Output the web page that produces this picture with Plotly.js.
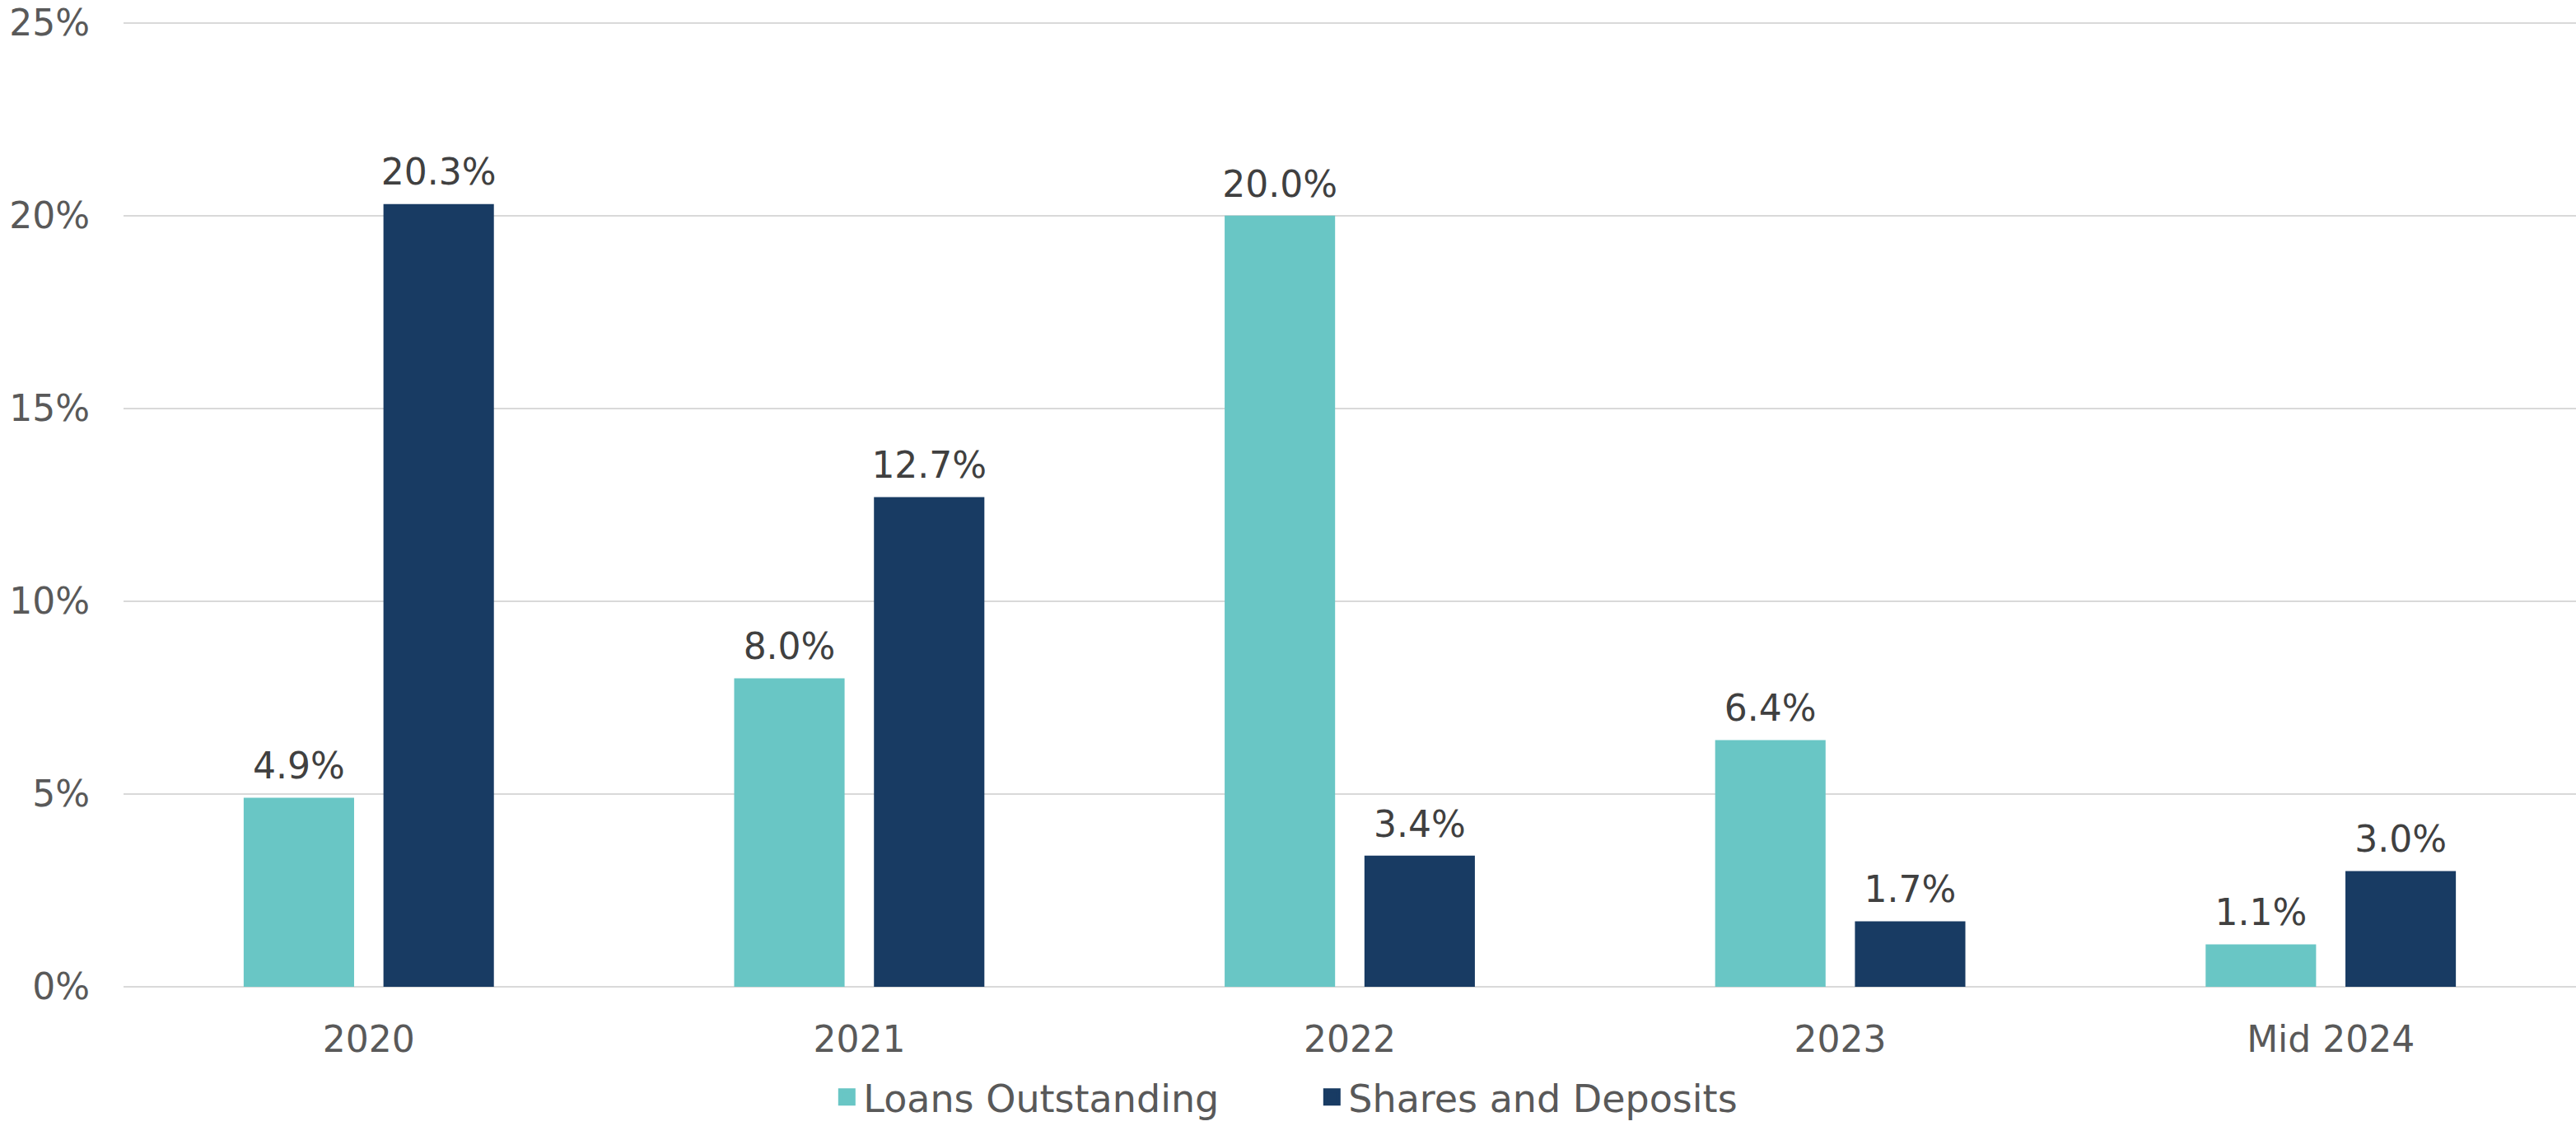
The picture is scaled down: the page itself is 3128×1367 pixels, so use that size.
<!DOCTYPE html>
<html>
<head>
<meta charset="utf-8">
<script src="https://cdn.plot.ly/plotly-3.0.1.min.js"></script>
<style>html,body{margin:0;padding:0;background:#fff}#chart{width:3128px;height:1367px}</style>
</head>
<body>
<div id="chart"></div>
<script>
const categories = ["2020", "2021", "2022", "2023", "Mid 2024"];
const loansOutstanding = [4.9, 8.0, 20.0, 6.4, 1.1];
const sharesDeposits = [20.3, 12.7, 3.4, 1.7, 3.0];
const seriesNames = ["Loans Outstanding", "Shares and Deposits"];
const colors = ["#69c6c5", "#183b63"];

const FONT = "DejaVu Sans, sans-serif";
const FS = 44;
const labelFmt = v => v.toFixed(1) + "%";

function barTrace(i, vals) {
  return {type: "bar", name: seriesNames[i], x: categories, y: vals, marker: {color: colors[i]},
          offsetgroup: "g" + i, hoverinfo: "skip", showlegend: false};
}
function labelTrace(i, vals) {
  return {type: "scatter", mode: "markers+text", x: categories, y: vals, text: vals.map(labelFmt),
          textposition: "top center", showlegend: false, offsetgroup: "g" + i,
          marker: {size: 18, opacity: 0}, hoverinfo: "skip",
          textfont: {family: FONT, size: FS, color: "#404040"}, cliponaxis: false};
}
function legendTrace(i) {
  return {type: "scatter", mode: "markers", name: seriesNames[i], x: [null], y: [null],
          offsetgroup: "g" + i,
          marker: {symbol: "square", size: 16, color: colors[i], line: {width: 5, color: colors[i]}},
          hoverinfo: "skip", showlegend: true};
}

const traces = [
  legendTrace(0), legendTrace(1),
  barTrace(0, loansOutstanding), barTrace(1, sharesDeposits),
  labelTrace(0, loansOutstanding), labelTrace(1, sharesDeposits)
];

const layout = {
  width: 3128, height: 1367,
  margin: {l: 150, r: 0, t: 23, b: 169, autoexpand: false},
  paper_bgcolor: "#ffffff", plot_bgcolor: "#ffffff",
  barmode: "group", bargap: 0.43, bargroupgap: 0.21,
  scattermode: "group", scattergap: 0.43,
  font: {family: FONT, size: FS, color: "#595959"},
  xaxis: {type: "category", range: [-0.5, 4.5], showgrid: false, showline: false, ticks: "",
          tickfont: {family: FONT, size: FS, color: "#595959"}, ticklabelstandoff: 34},
  yaxis: {range: [0, 25.1], tickvals: [0, 5, 10, 15, 20, 25], ticktext: ["0%", "5%", "10%", "15%", "20%", "25%"],
          showgrid: true, gridcolor: "#d9d9d9", gridwidth: 2,
          zeroline: true, zerolinecolor: "#d9d9d9", zerolinewidth: 2, showline: false, ticks: "",
          tickfont: {family: FONT, size: FS, color: "#595959"}, ticklabelstandoff: 40},
  legend: {orientation: "h", x: 0.486, xanchor: "center", y: -0.114, yanchor: "middle",
           font: {family: FONT, size: 46, color: "#595959"}, itemwidth: 30, itemsizing: "trace",
           traceorder: "normal", entrywidth: 544},
  showlegend: true
};

Plotly.newPlot("chart", traces, layout, {displayModeBar: false, staticPlot: true});
</script>
</body>
</html>
